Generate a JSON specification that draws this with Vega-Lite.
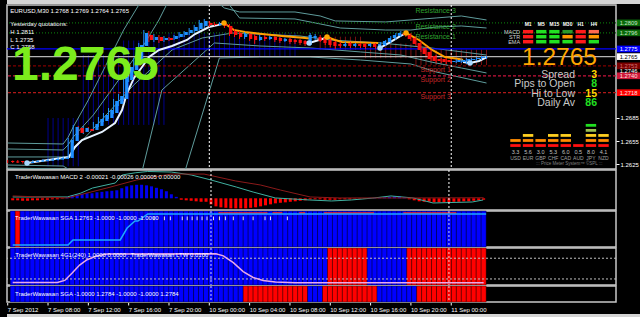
{
"$schema":"https://vega.github.io/schema/vega-lite/v6.json",
"background":"#000000",
"padding":{"left":5,"top":0,"right":0,"bottom":0},
"spacing":1,
"bounds":"flush",
"resolve":{"scale":{"color":"independent","strokeDash":"independent"}},
"config":{"view":{"stroke":"#c8c8c8","strokeWidth":1.5},"text":{"font":"Liberation Sans"},"axis":{"labelFont":"Liberation Sans"}},
"datasets":{
"B":[
{"i":0,"o":1.26289,"h":1.26302,"l":1.26263,"c":1.26276,"v":-0.00018,"a":"b","g":"b","q":"b"},
{"i":1,"o":1.26283,"h":1.26296,"l":1.26263,"c":1.2627,"v":-0.00018,"a":"r","g":"b","q":"b"},
{"i":2,"o":1.26289,"h":1.26302,"l":1.26263,"c":1.26276,"v":-0.00022,"a":"b","g":"b","q":"b"},
{"i":3,"o":1.26283,"h":1.26289,"l":1.26257,"c":1.2627,"v":-0.00022,"a":"b","g":"b","q":"b"},
{"i":4,"o":1.26263,"h":1.26289,"l":1.2625,"c":1.26276,"v":-0.00018,"a":"b","g":"b","q":"b"},
{"i":5,"o":1.26276,"h":1.26302,"l":1.26263,"c":1.26289,"v":-0.00018,"a":"b","g":"b","q":"b"},
{"i":6,"o":1.26283,"h":1.26302,"l":1.26276,"c":1.26296,"v":-0.00013,"a":"b","g":"b","q":"b"},
{"i":7,"o":1.26289,"h":1.26316,"l":1.26276,"c":1.26302,"v":-0.00013,"a":"b","g":"b","q":"b"},
{"i":8,"o":1.26296,"h":1.26322,"l":1.26283,"c":1.26309,"v":-0.00009,"a":"b","g":"b","q":"b"},
{"i":9,"o":1.26302,"h":1.26329,"l":1.26289,"c":1.26316,"v":-0.00009,"a":"b","g":"b","q":"b"},
{"i":10,"o":1.26309,"h":1.26342,"l":1.26296,"c":1.26329,"v":-0.00004,"a":"b","g":"b","q":"b"},
{"i":11,"o":1.26316,"h":1.26348,"l":1.26302,"c":1.26335,"v":0.00009,"a":"b","g":"b","q":"b"},
{"i":12,"o":1.26329,"h":1.26589,"l":1.26316,"c":1.26563,"v":0.00027,"a":"b","g":"b","q":"b"},
{"i":13,"o":1.2655,"h":1.26759,"l":1.26524,"c":1.26733,"v":0.00036,"a":"b","g":"b","q":"b"},
{"i":14,"o":1.2672,"h":1.26746,"l":1.26628,"c":1.26655,"v":0.0004,"a":"b","g":"b","q":"b"},
{"i":15,"o":1.26668,"h":1.26746,"l":1.26641,"c":1.2672,"v":0.00045,"a":"b","g":"b","q":"b"},
{"i":16,"o":1.26707,"h":1.26733,"l":1.26668,"c":1.26681,"v":0.00045,"a":"b","g":"b","q":"b"},
{"i":17,"o":1.26694,"h":1.26798,"l":1.26681,"c":1.26772,"v":0.00054,"a":"b","g":"b","q":"b"},
{"i":18,"o":1.26746,"h":1.26863,"l":1.26733,"c":1.26837,"v":0.00058,"a":"b","g":"b","q":"b"},
{"i":19,"o":1.26811,"h":1.26915,"l":1.26798,"c":1.26889,"v":0.00063,"a":"b","g":"b","q":"b"},
{"i":20,"o":1.2685,"h":1.2698,"l":1.26837,"c":1.26954,"v":0.00067,"a":"b","g":"b","q":"b"},
{"i":21,"o":1.26915,"h":1.27098,"l":1.26902,"c":1.27072,"v":0.00072,"a":"b","g":"b","q":"b"},
{"i":22,"o":1.27033,"h":1.27163,"l":1.27006,"c":1.27137,"v":0.0009,"a":"b","g":"b","q":"b"},
{"i":23,"o":1.27098,"h":1.27411,"l":1.27085,"c":1.27385,"v":0.00107,"a":"b","g":"b","q":"b"},
{"i":24,"o":1.27345,"h":1.27541,"l":1.27319,"c":1.27515,"v":0.00116,"a":"b","g":"b","q":"b"},
{"i":25,"o":1.27476,"h":1.27632,"l":1.2745,"c":1.27606,"v":0.00121,"a":"b","g":"b","q":"b"},
{"i":26,"o":1.2758,"h":1.27828,"l":1.27554,"c":1.27802,"v":0.00121,"a":"b","g":"b","q":"b"},
{"i":27,"o":1.27789,"h":1.27997,"l":1.27763,"c":1.27958,"v":0.00116,"a":"b","g":"b","q":"b"},
{"i":28,"o":1.27932,"h":1.27984,"l":1.27841,"c":1.27867,"v":0.00107,"a":"b","g":"b","q":"b"},
{"i":29,"o":1.27867,"h":1.27945,"l":1.27841,"c":1.27906,"v":0.00094,"a":"b","g":"b","q":"b"},
{"i":30,"o":1.27906,"h":1.27932,"l":1.27828,"c":1.27854,"v":0.00081,"a":"b","g":"b","q":"b"},
{"i":31,"o":1.27867,"h":1.27919,"l":1.27841,"c":1.27893,"v":0.00063,"a":"b","g":"b","q":"b"},
{"i":32,"o":1.27893,"h":1.27906,"l":1.27854,"c":1.27867,"v":0.00036,"a":"b","g":"b","q":"b"},
{"i":33,"o":1.2788,"h":1.27932,"l":1.27867,"c":1.27919,"v":0.00013,"a":"b","g":"b","q":"b"},
{"i":34,"o":1.27906,"h":1.27971,"l":1.27893,"c":1.27945,"v":-0.00013,"a":"b","g":"b","q":"b"},
{"i":35,"o":1.27932,"h":1.27984,"l":1.27906,"c":1.27971,"v":-0.00018,"a":"b","g":"b","q":"b"},
{"i":36,"o":1.27958,"h":1.28023,"l":1.27932,"c":1.27997,"v":-0.00022,"a":"b","g":"b","q":"b"},
{"i":37,"o":1.27984,"h":1.28063,"l":1.27958,"c":1.28036,"v":-0.00027,"a":"b","g":"b","q":"b"},
{"i":38,"o":1.2801,"h":1.28128,"l":1.27984,"c":1.28089,"v":-0.00031,"a":"b","g":"b","q":"b"},
{"i":39,"o":1.2805,"h":1.28141,"l":1.28023,"c":1.28115,"v":-0.00031,"a":"b","g":"b","q":"b"},
{"i":40,"o":1.28089,"h":1.28115,"l":1.28036,"c":1.28063,"v":-0.00054,"a":"b","g":"b","q":"b"},
{"i":41,"o":1.28076,"h":1.28102,"l":1.2805,"c":1.28063,"v":-0.00072,"a":"b","g":"b","q":"b"},
{"i":42,"o":1.28063,"h":1.28102,"l":1.2805,"c":1.28076,"v":-0.00081,"a":"b","g":"b","q":"b"},
{"i":43,"o":1.28076,"h":1.28115,"l":1.28023,"c":1.2805,"v":-0.00085,"a":"b","g":"b","q":"b"},
{"i":44,"o":1.2805,"h":1.28076,"l":1.27919,"c":1.27945,"v":-0.0009,"a":"b","g":"b","q":"b"},
{"i":45,"o":1.27984,"h":1.2801,"l":1.27906,"c":1.27932,"v":-0.0009,"a":"b","g":"b","q":"b"},
{"i":46,"o":1.27958,"h":1.27984,"l":1.2788,"c":1.27906,"v":-0.0009,"a":"b","g":"b","q":"b"},
{"i":47,"o":1.27906,"h":1.27971,"l":1.2788,"c":1.27945,"v":-0.0009,"a":"b","g":"b","q":"r"},
{"i":48,"o":1.27945,"h":1.27958,"l":1.27854,"c":1.2788,"v":-0.00085,"a":"b","g":"b","q":"r"},
{"i":49,"o":1.27919,"h":1.27945,"l":1.27815,"c":1.27867,"v":-0.00081,"a":"b","g":"b","q":"r"},
{"i":50,"o":1.27867,"h":1.27932,"l":1.27854,"c":1.27906,"v":-0.00072,"a":"b","g":"b","q":"r"},
{"i":51,"o":1.27906,"h":1.27932,"l":1.27854,"c":1.2788,"v":-0.00063,"a":"b","g":"b","q":"r"},
{"i":52,"o":1.2788,"h":1.27919,"l":1.27867,"c":1.27906,"v":-0.00054,"a":"b","g":"b","q":"r"},
{"i":53,"o":1.27906,"h":1.27919,"l":1.27841,"c":1.27867,"v":-0.00045,"a":"b","g":"b","q":"r"},
{"i":54,"o":1.27893,"h":1.27906,"l":1.27828,"c":1.27854,"v":-0.0004,"a":"b","g":"b","q":"r"},
{"i":55,"o":1.27854,"h":1.27893,"l":1.27841,"c":1.2788,"v":-0.00036,"a":"b","g":"b","q":"r"},
{"i":56,"o":1.2788,"h":1.27893,"l":1.27815,"c":1.27841,"v":-0.00031,"a":"b","g":"b","q":"r"},
{"i":57,"o":1.27867,"h":1.2788,"l":1.27815,"c":1.27841,"v":-0.00027,"a":"b","g":"b","q":"r"},
{"i":58,"o":1.27867,"h":1.2788,"l":1.27802,"c":1.27828,"v":-0.00022,"a":"b","g":"b","q":"r"},
{"i":59,"o":1.27854,"h":1.27867,"l":1.27789,"c":1.27815,"v":-0.00018,"a":"b","g":"b","q":"r"},
{"i":60,"o":1.27802,"h":1.27958,"l":1.27789,"c":1.27932,"v":-0.00009,"a":"b","g":"b","q":"b"},
{"i":61,"o":1.27893,"h":1.27945,"l":1.27867,"c":1.27919,"v":-0.00009,"a":"b","g":"b","q":"b"},
{"i":62,"o":1.27906,"h":1.27932,"l":1.27841,"c":1.27854,"v":-0.00009,"a":"b","g":"b","q":"b"},
{"i":63,"o":1.27893,"h":1.27919,"l":1.27802,"c":1.27828,"v":-0.00013,"a":"b","g":"b","q":"r"},
{"i":64,"o":1.27867,"h":1.27893,"l":1.27776,"c":1.27802,"v":-0.00013,"a":"b","g":"r","q":"r"},
{"i":65,"o":1.27841,"h":1.27854,"l":1.2775,"c":1.27789,"v":-0.00013,"a":"b","g":"r","q":"r"},
{"i":66,"o":1.27815,"h":1.27841,"l":1.27763,"c":1.27789,"v":-0.00009,"a":"b","g":"r","q":"r"},
{"i":67,"o":1.27789,"h":1.27841,"l":1.27776,"c":1.27815,"v":-0.00009,"a":"b","g":"r","q":"r"},
{"i":68,"o":1.27828,"h":1.27841,"l":1.27763,"c":1.27789,"v":-0.00009,"a":"b","g":"r","q":"r"},
{"i":69,"o":1.27789,"h":1.27828,"l":1.27776,"c":1.27815,"v":-0.00004,"a":"b","g":"r","q":"r"},
{"i":70,"o":1.27815,"h":1.27828,"l":1.27763,"c":1.27789,"v":-0.00004,"a":"b","g":"r","q":"r"},
{"i":71,"o":1.27815,"h":1.27828,"l":1.2775,"c":1.27776,"v":-0.00004,"a":"b","g":"r","q":"r"},
{"i":72,"o":1.27789,"h":1.27828,"l":1.27776,"c":1.27815,"v":0.00004,"a":"b","g":"b","q":"r"},
{"i":73,"o":1.27815,"h":1.27828,"l":1.2775,"c":1.27776,"v":0.00004,"a":"b","g":"b","q":"r"},
{"i":74,"o":1.27776,"h":1.27841,"l":1.2775,"c":1.27815,"v":0.00004,"a":"b","g":"b","q":"b"},
{"i":75,"o":1.27802,"h":1.27867,"l":1.27789,"c":1.27854,"v":0.00009,"a":"b","g":"b","q":"b"},
{"i":76,"o":1.27841,"h":1.27919,"l":1.27828,"c":1.27893,"v":0.00013,"a":"b","g":"b","q":"b"},
{"i":77,"o":1.27893,"h":1.27958,"l":1.27867,"c":1.27932,"v":0.00018,"a":"b","g":"b","q":"b"},
{"i":78,"o":1.27919,"h":1.27984,"l":1.27906,"c":1.27958,"v":0.00018,"a":"b","g":"b","q":"b"},
{"i":79,"o":1.27958,"h":1.27984,"l":1.27906,"c":1.27932,"v":0.00009,"a":"b","g":"b","q":"b"},
{"i":80,"o":1.27932,"h":1.27958,"l":1.27854,"c":1.2788,"v":-0.00009,"a":"b","g":"r","q":"b"},
{"i":81,"o":1.27893,"h":1.27919,"l":1.27789,"c":1.27815,"v":-0.00018,"a":"b","g":"r","q":"b"},
{"i":82,"o":1.27828,"h":1.27854,"l":1.27711,"c":1.27737,"v":-0.00027,"a":"b","g":"r","q":"r"},
{"i":83,"o":1.27763,"h":1.27789,"l":1.27658,"c":1.27684,"v":-0.00031,"a":"b","g":"r","q":"r"},
{"i":84,"o":1.27711,"h":1.27737,"l":1.27593,"c":1.27619,"v":-0.00031,"a":"b","g":"r","q":"r"},
{"i":85,"o":1.27658,"h":1.27671,"l":1.27567,"c":1.27593,"v":-0.00036,"a":"b","g":"r","q":"r"},
{"i":86,"o":1.27619,"h":1.27632,"l":1.27567,"c":1.27593,"v":-0.00036,"a":"b","g":"r","q":"r"},
{"i":87,"o":1.27619,"h":1.27632,"l":1.27554,"c":1.2758,"v":-0.00036,"a":"b","g":"r","q":"r"},
{"i":88,"o":1.27606,"h":1.27619,"l":1.27554,"c":1.2758,"v":-0.00036,"a":"b","g":"r","q":"r"},
{"i":89,"o":1.2758,"h":1.27619,"l":1.27567,"c":1.27593,"v":-0.00031,"a":"b","g":"r","q":"r"},
{"i":90,"o":1.2758,"h":1.27619,"l":1.27567,"c":1.27606,"v":-0.00031,"a":"b","g":"r","q":"r"},
{"i":91,"o":1.2758,"h":1.27632,"l":1.27554,"c":1.27606,"v":-0.00027,"a":"b","g":"r","q":"r"},
{"i":92,"o":1.27593,"h":1.27632,"l":1.2758,"c":1.27619,"v":-0.00027,"a":"b","g":"r","q":"r"},
{"i":93,"o":1.27606,"h":1.27645,"l":1.27593,"c":1.27619,"v":-0.00022,"a":"b","g":"r","q":"r"},
{"i":94,"o":1.27619,"h":1.27658,"l":1.27606,"c":1.27632,"v":-0.00018,"a":"b","g":"r","q":"r"},
{"i":95,"o":1.27632,"h":1.27658,"l":1.27619,"c":1.2765,"v":-0.00013,"a":"b","g":"r","q":"r"}
],
"bgr":[
{"i":8,"a":1.2685,"b":1.2622,"k":"n"},{"i":9,"a":1.2685,"b":1.2622,"k":"n"},{"i":10,"a":1.2685,"b":1.2622,"k":"n"},{"i":11,"a":1.2685,"b":1.2622,"k":"n"},{"i":12,"a":1.2685,"b":1.2622,"k":"n"},{"i":13,"a":1.2685,"b":1.2622,"k":"n"},{"i":14,"a":1.2685,"b":1.2622,"k":"n"},
{"i":15,"a":1.2767,"b":1.2676,"k":"n"},{"i":16,"a":1.2767,"b":1.2676,"k":"n"},{"i":17,"a":1.2767,"b":1.2676,"k":"n"},{"i":18,"a":1.2767,"b":1.2676,"k":"n"},{"i":19,"a":1.2767,"b":1.2676,"k":"n"},{"i":20,"a":1.2767,"b":1.2676,"k":"n"},{"i":21,"a":1.2767,"b":1.2676,"k":"n"},{"i":22,"a":1.2767,"b":1.2676,"k":"n"},
{"i":23,"a":1.2786,"b":1.2676,"k":"n"},{"i":24,"a":1.2786,"b":1.2676,"k":"n"},{"i":25,"a":1.2786,"b":1.2676,"k":"n"},{"i":26,"a":1.2786,"b":1.2676,"k":"n"},{"i":27,"a":1.2786,"b":1.2676,"k":"n"},{"i":28,"a":1.2786,"b":1.2676,"k":"n"},{"i":29,"a":1.2786,"b":1.2676,"k":"n"},{"i":30,"a":1.2786,"b":1.2676,"k":"n"},{"i":31,"a":1.2786,"b":1.2676,"k":"n"},
{"i":32,"a":1.2796,"b":1.2765,"k":"n"},{"i":33,"a":1.2796,"b":1.2765,"k":"n"},{"i":34,"a":1.2796,"b":1.2765,"k":"n"},{"i":35,"a":1.2796,"b":1.2765,"k":"n"},{"i":36,"a":1.2796,"b":1.2765,"k":"n"},{"i":37,"a":1.2796,"b":1.2765,"k":"n"},{"i":38,"a":1.2796,"b":1.2765,"k":"n"},{"i":39,"a":1.2796,"b":1.2765,"k":"n"},{"i":40,"a":1.2796,"b":1.2765,"k":"n"},{"i":41,"a":1.2796,"b":1.2765,"k":"n"},{"i":42,"a":1.2796,"b":1.2765,"k":"n"},{"i":43,"a":1.2796,"b":1.2765,"k":"n"},{"i":44,"a":1.2796,"b":1.2765,"k":"n"},{"i":45,"a":1.2796,"b":1.2765,"k":"n"},{"i":46,"a":1.2796,"b":1.2765,"k":"n"},{"i":47,"a":1.2796,"b":1.2765,"k":"n"},{"i":48,"a":1.2796,"b":1.2765,"k":"n"},{"i":49,"a":1.2796,"b":1.2765,"k":"n"},{"i":50,"a":1.2796,"b":1.2765,"k":"n"},{"i":51,"a":1.2796,"b":1.2765,"k":"n"},{"i":52,"a":1.2796,"b":1.2765,"k":"n"},{"i":53,"a":1.2796,"b":1.2765,"k":"n"},{"i":54,"a":1.2796,"b":1.2765,"k":"n"},{"i":55,"a":1.2796,"b":1.2765,"k":"n"},{"i":56,"a":1.2796,"b":1.2765,"k":"n"},{"i":57,"a":1.2796,"b":1.2765,"k":"n"},
{"i":62,"a":1.2791,"b":1.2774,"k":"r"},{"i":63,"a":1.2791,"b":1.2774,"k":"r"},{"i":64,"a":1.2791,"b":1.2774,"k":"r"},{"i":65,"a":1.2791,"b":1.2774,"k":"r"},{"i":66,"a":1.2791,"b":1.2774,"k":"r"},{"i":67,"a":1.2791,"b":1.2774,"k":"r"},{"i":68,"a":1.2791,"b":1.2774,"k":"r"},{"i":69,"a":1.2791,"b":1.2774,"k":"r"},{"i":70,"a":1.2791,"b":1.2774,"k":"r"},
{"i":71,"a":1.2782,"b":1.2763,"k":"r"},{"i":72,"a":1.2782,"b":1.2763,"k":"r"},{"i":73,"a":1.2782,"b":1.2763,"k":"r"},{"i":74,"a":1.2782,"b":1.2763,"k":"r"},{"i":75,"a":1.2782,"b":1.2763,"k":"r"},{"i":76,"a":1.2782,"b":1.2763,"k":"r"},{"i":77,"a":1.2782,"b":1.2763,"k":"r"},{"i":78,"a":1.2782,"b":1.2763,"k":"r"},{"i":79,"a":1.2782,"b":1.2763,"k":"r"},{"i":80,"a":1.2782,"b":1.2763,"k":"r"},
{"i":81,"a":1.2774,"b":1.2754,"k":"r"},{"i":82,"a":1.2774,"b":1.2754,"k":"r"},{"i":83,"a":1.2774,"b":1.2754,"k":"r"},{"i":84,"a":1.2774,"b":1.2754,"k":"r"},{"i":85,"a":1.2774,"b":1.2754,"k":"r"},{"i":86,"a":1.2774,"b":1.2754,"k":"r"},{"i":87,"a":1.2774,"b":1.2754,"k":"r"},{"i":88,"a":1.2774,"b":1.2754,"k":"r"},{"i":89,"a":1.2774,"b":1.2754,"k":"r"},{"i":90,"a":1.2774,"b":1.2754,"k":"r"},{"i":91,"a":1.2774,"b":1.2754,"k":"r"},{"i":92,"a":1.2774,"b":1.2754,"k":"r"},{"i":93,"a":1.2774,"b":1.2754,"k":"r"},{"i":94,"a":1.2774,"b":1.2754,"k":"r"},{"i":95,"a":1.2774,"b":1.2754,"k":"r"}
],
"bands":[
{"b":"u2","i":0,"p":1.26524},{"b":"u2","i":11,"p":1.26511},{"b":"u2","i":12,"p":1.266},{"b":"u2","i":13,"p":1.26733},{"b":"u2","i":16,"p":1.27085},{"b":"u2","i":20,"p":1.27606},{"b":"u2","i":23,"p":1.27997},{"b":"u2","i":26,"p":1.28323},{"b":"u2","i":27,"p":1.28519},{"b":"u2","i":40,"p":1.28584},{"b":"u2","i":41,"p":1.28389},{"b":"u2","i":43,"p":1.28284},{"b":"u2","i":46,"p":1.28232},{"b":"u2","i":57,"p":1.28232},{"b":"u2","i":62,"p":1.2818},{"b":"u2","i":65,"p":1.28115},{"b":"u2","i":75,"p":1.28102},{"b":"u2","i":85,"p":1.28154},{"b":"u2","i":90,"p":1.2818},{"b":"u2","i":95,"p":1.28128},
{"b":"u1","i":0,"p":1.26446},{"b":"u1","i":11,"p":1.26433},{"b":"u1","i":12,"p":1.265},{"b":"u1","i":13,"p":1.26602},{"b":"u1","i":17,"p":1.2689},{"b":"u1","i":22,"p":1.27345},{"b":"u1","i":27,"p":1.27802},{"b":"u1","i":30,"p":1.28128},{"b":"u1","i":32,"p":1.28389},{"b":"u1","i":33,"p":1.28519},{"b":"u1","i":42,"p":1.28584},{"b":"u1","i":44,"p":1.28323},{"b":"u1","i":46,"p":1.28154},{"b":"u1","i":57,"p":1.28141},{"b":"u1","i":62,"p":1.28076},{"b":"u1","i":66,"p":1.28023},{"b":"u1","i":75,"p":1.27997},{"b":"u1","i":80,"p":1.27997},{"b":"u1","i":85,"p":1.28036},{"b":"u1","i":90,"p":1.2805},{"b":"u1","i":95,"p":1.28023},
{"b":"m","i":0,"p":1.26342},{"b":"m","i":12,"p":1.26342},{"b":"m","i":13,"p":1.26433},{"b":"m","i":19,"p":1.2685},{"b":"m","i":25,"p":1.2728},{"b":"m","i":32.6,"p":1.27737},{"b":"m","i":38.6,"p":1.27893},{"b":"m","i":44.6,"p":1.27958},{"b":"m","i":58,"p":1.27919},{"b":"m","i":64,"p":1.27867},{"b":"m","i":74,"p":1.27828},{"b":"m","i":84,"p":1.27763},{"b":"m","i":95,"p":1.27671},
{"b":"l1","i":0,"p":1.26237},{"b":"l1","i":11,"p":1.26224},{"b":"l1","i":13,"p":1.26146},{"b":"l1","i":20,"p":1.25977},{"b":"l1","i":26,"p":1.25977},{"b":"l1","i":30.6,"p":1.27215},{"b":"l1","i":41,"p":1.27828},{"b":"l1","i":50,"p":1.27789},{"b":"l1","i":60,"p":1.27763},{"b":"l1","i":70,"p":1.27711},{"b":"l1","i":78,"p":1.27671},{"b":"l1","i":84,"p":1.2758},{"b":"l1","i":90,"p":1.27502},{"b":"l1","i":95,"p":1.27437},
{"b":"l2","i":0,"p":1.26198},{"b":"l2","i":11,"p":1.26185},{"b":"l2","i":13,"p":1.26094},{"b":"l2","i":33,"p":1.26042},{"b":"l2","i":35.3,"p":1.26185},{"b":"l2","i":42,"p":1.27632},{"b":"l2","i":50,"p":1.27645},{"b":"l2","i":60,"p":1.27645},{"b":"l2","i":70,"p":1.27606},{"b":"l2","i":80,"p":1.27554},{"b":"l2","i":85,"p":1.2745},{"b":"l2","i":95,"p":1.27306}
],
"hl":[{"p":1.2775,"k":"blue"},{"p":1.2765,"k":"bid"},{"p":1.2753,"k":"s1"},{"p":1.274,"k":"s2"},{"p":1.2718,"k":"s3"},{"p":1.2809,"k":"r"},{"p":1.2796,"k":"r"}],
"sep":[{"i":40},{"i":88}],
"tl":[{"i":0,"t":"7 Sep 2012"},{"i":8,"t":"7 Sep 08:00"},{"i":16,"t":"7 Sep 12:00"},{"i":24,"t":"7 Sep 16:00"},{"i":32,"t":"7 Sep 20:00"},{"i":40,"t":"10 Sep 00:00"},{"i":48,"t":"10 Sep 04:00"},{"i":56,"t":"10 Sep 08:00"},{"i":64,"t":"10 Sep 12:00"},{"i":72,"t":"10 Sep 16:00"},{"i":80,"t":"10 Sep 20:00"},{"i":88,"t":"11 Sep 00:00"}],
"sd":[{"i":41.5,"j":51.4},{"i":52.4,"j":54.4},{"i":57.8,"j":59},{"i":62.8,"j":72.9},{"i":78.8,"j":89.5}],
"sw":[{"i":28.5},{"i":30.6},{"i":31.8},{"i":34.2},{"i":35.2},{"i":36.2},{"i":37.2},{"i":38.2},{"i":39.2},{"i":40.5},{"i":41.7},{"i":42.9},{"i":44.5},{"i":46.5},{"i":48.5},{"i":50.9},{"i":52},{"i":55.4}],
"ma":[
{"s":1,"t":"u","i":3.83,"p":1.26263},{"s":1,"t":"u","i":12.16,"p":1.26342},{"s":1,"t":"u","i":13.35,"p":1.26472},{"s":1,"t":"u","i":14.74,"p":1.26563},{"s":1,"t":"u","i":18.71,"p":1.26668},{"s":1,"t":"u","i":21.29,"p":1.26785},{"s":1,"t":"u","i":22.68,"p":1.26954},{"s":1,"t":"u","i":23.67,"p":1.27176},{"s":1,"t":"u","i":25.06,"p":1.27372},{"s":1,"t":"u","i":26.65,"p":1.27515},{"s":1,"t":"u","i":28.04,"p":1.27645},{"s":1,"t":"u","i":30.02,"p":1.27737},{"s":1,"t":"u","i":32.6,"p":1.27789},{"s":1,"t":"u","i":35.57,"p":1.27867},{"s":1,"t":"u","i":37.16,"p":1.27945},{"s":1,"t":"u","i":39.94,"p":1.28036},{"s":1,"t":"u","i":42.52,"p":1.28076},{"s":1,"t":"u","i":42.92,"p":1.28089},
{"s":2,"t":"d","i":42.92,"p":1.28089},{"s":2,"t":"d","i":44.9,"p":1.27997},{"s":2,"t":"d","i":47.08,"p":1.27971},{"s":2,"t":"d","i":50.46,"p":1.27945},{"s":2,"t":"d","i":54.4,"p":1.27919},{"s":2,"t":"d","i":59,"p":1.27893},{"s":2,"t":"d","i":59.8,"p":1.27886},
{"s":3,"t":"u","i":59.8,"p":1.27828},{"s":3,"t":"u","i":61.77,"p":1.27867},{"s":3,"t":"u","i":63.35,"p":1.27899},
{"s":4,"t":"d","i":63.35,"p":1.27906},{"s":4,"t":"d","i":64.94,"p":1.27867},{"s":4,"t":"d","i":66.33,"p":1.27841},{"s":4,"t":"d","i":70.3,"p":1.27834},{"s":4,"t":"d","i":73.5,"p":1.27828},
{"s":5,"t":"u","i":73.87,"p":1.27763},{"s":5,"t":"u","i":75.65,"p":1.27828},{"s":5,"t":"u","i":77.63,"p":1.27906},{"s":5,"t":"u","i":79.03,"p":1.27958},
{"s":6,"t":"d","i":79.03,"p":1.27958},{"s":6,"t":"d","i":81.6,"p":1.27867},{"s":6,"t":"d","i":84.2,"p":1.27737},{"s":6,"t":"d","i":86.77,"p":1.27645},{"s":6,"t":"d","i":89.54,"p":1.27619},{"s":6,"t":"d","i":90.34,"p":1.27606},
{"s":7,"t":"u","i":90.34,"p":1.2758},{"s":7,"t":"u","i":91.73,"p":1.27567},{"s":7,"t":"u","i":93.51,"p":1.27593},{"s":7,"t":"u","i":95.1,"p":1.27645}
],
"dots":[{"i":3.83,"p":1.26263,"t":"u"},{"i":59.8,"p":1.27828,"t":"u"},{"i":73.87,"p":1.27763,"t":"u"},{"i":91.73,"p":1.27567,"t":"u"},{"i":42.92,"p":1.28089,"t":"d"},{"i":63.35,"p":1.27906,"t":"d"},{"i":79.03,"p":1.27958,"t":"d"}],
"lv":[{"t":"Resistance 3","p":1.28305,"k":"r"},{"t":"Resistance 2","p":1.2809,"k":"r"},{"t":"Resistance 1","p":1.2796,"k":"r"},{"t":"Support 1","p":1.2753,"k":"s"},{"t":"Support 2","p":1.274,"k":"s"},{"t":"Support 3","p":1.2718,"k":"s"}],
"hd":[{"t":"EURUSD,M30  1.2768 1.2769 1.2764 1.2765","p":1.28245},{"t":"Yesterday quotations:","p":1.28072},{"t":"H 1.2811","p":1.27971},{"t":"L 1.2735","p":1.27867},{"t":"C 1.2758","p":1.27772}],
"tg":[{"p":1.2809,"k":"g","t":"1.2809"},{"p":1.2796,"k":"g","t":"1.2796"},{"p":1.2775,"k":"b","t":"1.2775"},{"p":1.2765,"k":"w","t":"1.2765"},{"p":1.2753,"k":"m","t":"1.2753"},{"p":1.274,"k":"c","t":"1.2740"},{"p":1.2718,"k":"r","t":"1.2718"}],
"db":[
{"tf":"M1","ind":"MACD","s":"r"},{"tf":"M5","ind":"MACD","s":"g"},{"tf":"M15","ind":"MACD","s":"g"},{"tf":"M30","ind":"MACD","s":"dg"},{"tf":"H1","ind":"MACD","s":"r"},{"tf":"H4","ind":"MACD","s":"sa"},
{"tf":"M1","ind":"STR","s":"r"},{"tf":"M5","ind":"STR","s":"g"},{"tf":"M15","ind":"STR","s":"g"},{"tf":"M30","ind":"STR","s":"o"},{"tf":"H1","ind":"STR","s":"r"},{"tf":"H4","ind":"STR","s":"o"},
{"tf":"M1","ind":"EMA","s":"r"},{"tf":"M5","ind":"EMA","s":"g"},{"tf":"M15","ind":"EMA","s":"g"},{"tf":"M30","ind":"EMA","s":"g"},{"tf":"H1","ind":"EMA","s":"r"},{"tf":"H4","ind":"EMA","s":"g"}
],
"dh":[{"tf":"M1"},{"tf":"M5"},{"tf":"M15"},{"tf":"M30"},{"tf":"H1"},{"tf":"H4"}],
"dl":[{"ind":"MACD"},{"ind":"STR"},{"ind":"EMA"}],
"st":[{"r":"Spread","c":"label","t":"Spread","k":"w"},{"r":"Spread","c":"value","t":"3","k":"y"},{"r":"Pips to Open","c":"label","t":"Pips to Open","k":"w"},{"r":"Pips to Open","c":"value","t":"8","k":"g"},{"r":"Hi to Low","c":"label","t":"Hi to Low","k":"w"},{"r":"Hi to Low","c":"value","t":"15","k":"y"},{"r":"Daily Av","c":"label","t":"Daily Av","k":"w"},{"r":"Daily Av","c":"value","t":"86","k":"g"}],
"sm":[{"cur":"USD","seg":"1"},{"cur":"USD","seg":"2"},{"cur":"EUR","seg":"1"},{"cur":"EUR","seg":"2"},{"cur":"EUR","seg":"3"},{"cur":"GBP","seg":"1"},{"cur":"GBP","seg":"2"},{"cur":"CHF","seg":"1"},{"cur":"CHF","seg":"2"},{"cur":"CHF","seg":"3"},{"cur":"CAD","seg":"1"},{"cur":"CAD","seg":"2"},{"cur":"CAD","seg":"3"},{"cur":"AUD","seg":"1"},{"cur":"JPY","seg":"1"},{"cur":"JPY","seg":"2"},{"cur":"JPY","seg":"3"},{"cur":"JPY","seg":"4"},{"cur":"JPY","seg":"5"},{"cur":"NZD","seg":"1"},{"cur":"NZD","seg":"2"},{"cur":"NZD","seg":"3"}],
"sv":[{"cur":"USD","t":"3.3"},{"cur":"EUR","t":"5.6"},{"cur":"GBP","t":"3.0"},{"cur":"CHF","t":"5.3"},{"cur":"CAD","t":"6.0"},{"cur":"AUD","t":"0.5"},{"cur":"JPY","t":"8.0"},{"cur":"NZD","t":"4.1"}],
"ml":[
{"s":"t","i":0,"v":0.00012},{"s":"t","i":11,"v":0.00012},{"s":"t","i":13.75,"v":0.00047},{"s":"t","i":16.1,"v":0.00092},{"s":"t","i":20.7,"v":0.00137},{"s":"t","i":22.1,"v":0.00209},{"s":"t","i":24.7,"v":0.00228},{"s":"t","i":27.2,"v":0.0024},{"s":"t","i":32,"v":0.00235},{"s":"t","i":36,"v":0.00209},{"s":"t","i":40,"v":0.00164},{"s":"t","i":45.1,"v":0.00101},{"s":"t","i":48.5,"v":0.00056},{"s":"t","i":53,"v":0.00003},{"s":"t","i":59.8,"v":-0.00015},{"s":"t","i":64.3,"v":-0.00024},{"s":"t","i":68.3,"v":-0.00015},{"s":"t","i":72.9,"v":0.00003},{"s":"t","i":76.3,"v":0.00021},{"s":"t","i":80.8,"v":0.00003},{"s":"t","i":84.8,"v":-0.00042},{"s":"t","i":92.7,"v":-0.00033},{"s":"t","i":94.9,"v":-0.00015},
{"s":"m","i":0,"v":0.00021},{"s":"m","i":11,"v":0.00003},{"s":"m","i":19,"v":0.00092},{"s":"m","i":25,"v":0.00164},{"s":"m","i":32,"v":0.00217},{"s":"m","i":38.6,"v":0.00217},{"s":"m","i":45,"v":0.00155},{"s":"m","i":50,"v":0.00119},{"s":"m","i":54,"v":0.00074},{"s":"m","i":60,"v":0.00012},{"s":"m","i":66,"v":0.00003},{"s":"m","i":80,"v":0.00003},{"s":"m","i":95,"v":0.00005}
],
"sl":[{"i":0,"v":0},{"i":11.17,"v":0},{"i":12.16,"v":0.161},{"i":21.69,"v":0.161},{"i":23.08,"v":0.548},{"i":24.67,"v":0.774},{"i":25.26,"v":0.774},{"i":27.24,"v":1},{"i":95.5,"v":1}],
"pl":[{"i":0,"v":0.03},{"i":9,"v":0.03},{"i":10.5,"v":0.1},{"i":12,"v":0.35},{"i":13.5,"v":0.62},{"i":15,"v":0.8},{"i":17,"v":0.93},{"i":19,"v":0.99},{"i":41,"v":1},{"i":42.5,"v":0.93},{"i":44.5,"v":0.7},{"i":46.5,"v":0.4},{"i":48.5,"v":0.2},{"i":50.5,"v":0.1},{"i":53,"v":0.05},{"i":57,"v":0.02},{"i":95,"v":0.02}],
"lvl4":[{"v":0.85},{"v":0.15}]
},
"vconcat":[
{"width":635,"height":4,"view":{"fill":"#d4d4d4","stroke":null},"data":{"values":[]},"mark":"point","encoding":{}},
{"width":609,"height":164,
"resolve":{"scale":{"x":"independent","y":"independent","color":"independent","strokeDash":"independent"}},
"layer":[
{"data":{"name":"bgr"},"mark":{"type":"rule","strokeWidth":1},"encoding":{"x":{"field":"i","type":"quantitative","scale":{"domain":[-0.14,120.69],"nice":false,"zero":false},"axis":null},"y":{"field":"a","type":"quantitative","scale":{"domain":[1.26185,1.28323],"nice":false,"zero":false},"axis":null},"y2":{"field":"b"},"color":{"field":"k","type":"nominal","scale":{"domain":["n","r"],"range":["#00008c","#7a1212"]},"legend":null}}},
{"data":{"name":"bands"},"mark":{"type":"line","strokeWidth":1,"clip":true,"color":"#5f9c9c"},"encoding":{"x":{"field":"i","type":"quantitative","scale":{"domain":[-0.14,120.69],"nice":false,"zero":false},"axis":null},"y":{"field":"p","type":"quantitative","scale":{"domain":[1.26185,1.28323],"nice":false,"zero":false},"axis":null},"detail":{"field":"b"}}},
{"data":{"name":"hl"},"mark":{"type":"rule","strokeWidth":1.2},"encoding":{"y":{"field":"p","type":"quantitative","scale":{"domain":[1.26185,1.28323],"nice":false,"zero":false},"axis":{"orient":"right","values":[1.2685,1.2655,1.2625],"format":".4f","labelColor":"#ffffff","labelFontSize":6,"tickColor":"#ffffff","tickSize":3,"labelPadding":1,"domain":false,"grid":false,"title":null,"labelFlush":false}},"color":{"field":"k","type":"nominal","scale":{"domain":["blue","bid","s1","s2","s3","r"],"range":["#0000ff","#b4b4b4","#800000","#c8143c","#b01818","#0a6e0a"]},"legend":null},"strokeDash":{"field":"k","type":"nominal","scale":{"domain":["blue","bid","s1","s2","s3","r"],"range":[[1,0],[1,0],[3,2],[3,2],[3,2],[1,2]]},"legend":null}}},
{"data":{"name":"sep"},"mark":{"type":"rule","color":"#ffffff","strokeDash":[2,2],"strokeWidth":1},"encoding":{"x":{"field":"i","type":"quantitative","scale":{"domain":[-0.14,120.69],"nice":false,"zero":false},"axis":null}}},
{"data":{"name":"ma"},"mark":{"type":"line","strokeWidth":2},"encoding":{"x":{"field":"i","type":"quantitative","scale":{"domain":[-0.14,120.69],"nice":false,"zero":false},"axis":null},"y":{"field":"p","type":"quantitative","scale":{"domain":[1.26185,1.28323],"nice":false,"zero":false},"axis":null},"detail":{"field":"s"},"color":{"field":"t","type":"nominal","scale":{"domain":["u","d"],"range":["#e6f2ff","#ffa000"]},"legend":null}}},
{"data":{"name":"B"},"mark":{"type":"rule","strokeWidth":1},"encoding":{"x":{"field":"i","type":"quantitative","scale":{"domain":[-0.14,120.69],"nice":false,"zero":false},"axis":null},"y":{"field":"l","type":"quantitative","scale":{"domain":[1.26185,1.28323],"nice":false,"zero":false},"axis":null},"y2":{"field":"h"},"color":{"condition":{"test":"datum.c >= datum.o","value":"#1e90ff"},"value":"#ff1010"}}},
{"data":{"name":"B"},"mark":{"type":"bar","width":3.2},"encoding":{"x":{"field":"i","type":"quantitative","scale":{"domain":[-0.14,120.69],"nice":false,"zero":false},"axis":null},"y":{"field":"o","type":"quantitative","scale":{"domain":[1.26185,1.28323],"nice":false,"zero":false},"axis":null},"y2":{"field":"c"},"color":{"condition":{"test":"datum.c >= datum.o","value":"#1e90ff"},"value":"#ff1010"}}},
{"data":{"name":"dots"},"mark":{"type":"point","filled":true,"size":30,"opacity":1},"encoding":{"x":{"field":"i","type":"quantitative","scale":{"domain":[-0.14,120.69],"nice":false,"zero":false},"axis":null},"y":{"field":"p","type":"quantitative","scale":{"domain":[1.26185,1.28323],"nice":false,"zero":false},"axis":null},"color":{"field":"t","type":"nominal","scale":{"domain":["u","d"],"range":["#a8d8ff","#ffa500"]},"legend":null}}},
{"data":{"name":"lv"},"mark":{"type":"text","fontSize":7,"dy":4.3,"baseline":"middle","align":"center"},"encoding":{"x":{"datum":84.9,"type":"quantitative","scale":{"domain":[-0.14,120.69],"nice":false,"zero":false},"axis":null},"y":{"field":"p","type":"quantitative","scale":{"domain":[1.26185,1.28323],"nice":false,"zero":false},"axis":null},"text":{"field":"t"},"color":{"field":"k","type":"nominal","scale":{"domain":["r","s"],"range":["#2ea02e","#c82828"]},"legend":null}}},
{"data":{"name":"hd"},"mark":{"type":"text","fontSize":6,"baseline":"middle","align":"left","color":"#ffffff"},"encoding":{"x":{"datum":0.5,"type":"quantitative","scale":{"domain":[-0.14,120.69],"nice":false,"zero":false},"axis":null},"y":{"field":"p","type":"quantitative","scale":{"domain":[1.26185,1.28323],"nice":false,"zero":false},"axis":null},"text":{"field":"t"}}},
{"data":{"values":[{"t":"1.2765"}]},"mark":{"type":"text","fontSize":48,"fontWeight":"bold","baseline":"alphabetic","align":"left","color":"#7cec1c"},"encoding":{"x":{"datum":0.85,"type":"quantitative","scale":{"domain":[-0.14,120.69],"nice":false,"zero":false},"axis":null},"y":{"datum":1.27345,"type":"quantitative","scale":{"domain":[1.26185,1.28323],"nice":false,"zero":false},"axis":null},"text":{"field":"t"}}},
{"data":{"name":"tg"},"mark":{"type":"point","filled":true,"opacity":1,"size":529,"shape":"M-1,-0.29H1V0.29H-1Z"},"encoding":{"x":{"datum":123.17,"type":"quantitative","scale":{"domain":[-0.14,120.69],"nice":false,"zero":false},"axis":null},"y":{"field":"p","type":"quantitative","scale":{"domain":[1.26185,1.28323],"nice":false,"zero":false},"axis":null},"color":{"field":"k","type":"nominal","scale":{"domain":["g","b","w","m","c","r"],"range":["#0a6a0a","#0000ff","#ffffff","#7a0000","#d01838","#ff0000"]},"legend":null}}},
{"data":{"name":"tg"},"mark":{"type":"text","fontSize":5.8,"baseline":"middle","align":"center"},"encoding":{"x":{"datum":123.17,"type":"quantitative","scale":{"domain":[-0.14,120.69],"nice":false,"zero":false},"axis":null},"y":{"field":"p","type":"quantitative","scale":{"domain":[1.26185,1.28323],"nice":false,"zero":false},"axis":null},"text":{"field":"t"},"color":{"field":"k","type":"nominal","scale":{"domain":["g","b","w","m","c","r"],"range":["#c8e8c8","#ffffff","#000000","#d07070","#ffe0e0","#ffe0e0"]},"legend":null}}},
{"data":{"values":[{"t":"1.2746"}]},"mark":{"type":"text","fontSize":5.8,"baseline":"middle","align":"center","color":"#ffffff"},"encoding":{"x":{"datum":123.17,"type":"quantitative","scale":{"domain":[-0.14,120.69],"nice":false,"zero":false},"axis":null},"y":{"datum":1.27462,"type":"quantitative","scale":{"domain":[1.26185,1.28323],"nice":false,"zero":false},"axis":null},"text":{"field":"t"}}},
{"data":{"name":"db"},"mark":{"type":"rect"},"encoding":{"x":{"field":"tf","type":"nominal","scale":{"type":"band","domain":["lbl","M1","M5","M15","M30","H1","H4"],"range":[501.4,593.4],"paddingInner":0.22,"paddingOuter":0.11},"axis":null},"y":{"field":"ind","type":"nominal","scale":{"type":"band","domain":["hdr","MACD","STR","EMA"],"range":[19.2,39.2],"paddingInner":0.3,"paddingOuter":0.15},"axis":null},"color":{"field":"s","type":"nominal","scale":{"domain":["r","g","dg","o","sa"],"range":["#ff1a1a","#22e022","#2a9a2a","#ff9900","#ff6a50"]},"legend":null}}},
{"data":{"name":"dh"},"mark":{"type":"text","fontSize":5,"fontWeight":"bold","baseline":"middle","align":"center","color":"#ffffff","dy":-2.5},"encoding":{"x":{"field":"tf","type":"nominal","scale":{"type":"band","domain":["lbl","M1","M5","M15","M30","H1","H4"],"range":[501.4,593.4],"paddingInner":0.22,"paddingOuter":0.11},"axis":null},"y":{"datum":"hdr","type":"nominal","scale":{"type":"band","domain":["hdr","MACD","STR","EMA"],"range":[19.2,39.2],"paddingInner":0.3,"paddingOuter":0.15},"axis":null},"text":{"field":"tf"}}},
{"data":{"name":"dl"},"mark":{"type":"text","fontSize":5.5,"baseline":"middle","align":"right","color":"#d0d0d0"},"encoding":{"x":{"datum":"lbl","type":"nominal","bandPosition":1,"scale":{"type":"band","domain":["lbl","M1","M5","M15","M30","H1","H4"],"range":[501.4,593.4],"paddingInner":0.22,"paddingOuter":0.11},"axis":null},"y":{"field":"ind","type":"nominal","scale":{"type":"band","domain":["hdr","MACD","STR","EMA"],"range":[19.2,39.2],"paddingInner":0.3,"paddingOuter":0.15},"axis":null},"text":{"field":"ind"}}},
{"data":{"name":"st"},"transform":[{"filter":"datum.c == 'label'"}],"mark":{"type":"text","fontSize":10.5,"baseline":"alphabetic","align":"right"},"encoding":{"x":{"field":"c","type":"nominal","scale":{"type":"point","domain":["label","value"],"range":[568,590],"padding":0},"axis":null},"y":{"field":"r","type":"nominal","scale":{"type":"point","domain":["big","Spread","Pips to Open","Hi to Low","Daily Av"],"range":[63.7,100.9],"padding":0},"axis":null},"text":{"field":"t"},"color":{"field":"k","type":"nominal","scale":{"domain":["w","y","g"],"range":["#c8c8c8","#ffd700","#22e022"]},"legend":null}}},
{"data":{"name":"st"},"transform":[{"filter":"datum.c == 'value'"}],"mark":{"type":"text","fontSize":10.5,"fontWeight":"bold","baseline":"alphabetic","align":"right"},"encoding":{"x":{"field":"c","type":"nominal","scale":{"type":"point","domain":["label","value"],"range":[568,590],"padding":0},"axis":null},"y":{"field":"r","type":"nominal","scale":{"type":"point","domain":["big","Spread","Pips to Open","Hi to Low","Daily Av"],"range":[63.7,100.9],"padding":0},"axis":null},"text":{"field":"t"},"color":{"field":"k","type":"nominal","scale":{"domain":["w","y","g"],"range":["#c8c8c8","#ffd700","#22e022"]},"legend":null}}},
{"data":{"values":[{"t":"1.2765"}]},"mark":{"type":"text","fontSize":24.5,"baseline":"alphabetic","align":"right","color":"#ffa500","dy":-4.2},"encoding":{"x":{"datum":"value","type":"nominal","scale":{"type":"point","domain":["label","value"],"range":[568,590],"padding":0},"axis":null},"y":{"datum":"big","type":"nominal","scale":{"type":"point","domain":["big","Spread","Pips to Open","Hi to Low","Daily Av"],"range":[63.7,100.9],"padding":0},"axis":null},"text":{"field":"t"}}},
{"data":{"name":"sm"},"mark":{"type":"rect"},"encoding":{"x":{"field":"cur","type":"nominal","scale":{"type":"band","domain":["USD","EUR","GBP","CHF","CAD","AUD","JPY","NZD"],"range":[502.2,602.8],"paddingInner":0.17,"paddingOuter":0.085},"axis":null},"y":{"field":"seg","type":"nominal","scale":{"type":"band","domain":["5","4","3","2","1","val","cur","brand"],"range":[117.8,158.2],"paddingInner":0.45,"paddingOuter":0.225},"axis":null},"color":{"field":"seg","type":"nominal","scale":{"domain":["1","2","3","4","5"],"range":["#ff1010","#ff8c00","#ffd020","#9cc050","#20e020"]},"legend":null}}},
{"data":{"name":"sv"},"mark":{"type":"text","fontSize":5.5,"baseline":"middle","align":"center","color":"#c0c0c0","dy":1.1},"encoding":{"x":{"field":"cur","type":"nominal","scale":{"type":"band","domain":["USD","EUR","GBP","CHF","CAD","AUD","JPY","NZD"],"range":[502.2,602.8],"paddingInner":0.17,"paddingOuter":0.085},"axis":null},"y":{"datum":"val","type":"nominal","scale":{"type":"band","domain":["5","4","3","2","1","val","cur","brand"],"range":[117.8,158.2],"paddingInner":0.45,"paddingOuter":0.225},"axis":null},"text":{"field":"t"}}},
{"data":{"name":"sv"},"mark":{"type":"text","fontSize":5,"baseline":"middle","align":"center","color":"#a0a0a0","dy":2},"encoding":{"x":{"field":"cur","type":"nominal","scale":{"type":"band","domain":["USD","EUR","GBP","CHF","CAD","AUD","JPY","NZD"],"range":[502.2,602.8],"paddingInner":0.17,"paddingOuter":0.085},"axis":null},"y":{"datum":"cur","type":"nominal","scale":{"type":"band","domain":["5","4","3","2","1","val","cur","brand"],"range":[117.8,158.2],"paddingInner":0.45,"paddingOuter":0.225},"axis":null},"text":{"field":"cur"}}},
{"data":{"values":[{"t":"::: Price Meter System™ ©SPL :::"}]},"mark":{"type":"text","fontSize":4.5,"baseline":"middle","align":"center","color":"#808080","dy":3.3,"dx":3.5},"encoding":{"x":{"datum":"CAD","type":"nominal","scale":{"type":"band","domain":["USD","EUR","GBP","CHF","CAD","AUD","JPY","NZD"],"range":[502.2,602.8],"paddingInner":0.17,"paddingOuter":0.085},"axis":null},"y":{"datum":"brand","type":"nominal","scale":{"type":"band","domain":["5","4","3","2","1","val","cur","brand"],"range":[117.8,158.2],"paddingInner":0.45,"paddingOuter":0.225},"axis":null},"text":{"field":"t"}}}
]},
{"width":609,"height":40,
"layer":[
{"data":{"name":"B"},"mark":{"type":"bar","width":3},"encoding":{"x":{"field":"i","type":"quantitative","scale":{"domain":[-0.14,120.69],"nice":false,"zero":false},"axis":null},"y":{"field":"v","type":"quantitative","scale":{"domain":[-0.001047,0.002533],"nice":false,"zero":false},"axis":{"orient":"right","values":[0.00209,0,-0.00042],"labelExpr":"datum.value > 0.001 ? '0.00244' : (datum.value < -0.0002 ? '-0.00105' : '0.00')","labelColor":"#ffffff","labelFontSize":6,"tickColor":"#ffffff","tickSize":3,"labelPadding":1,"domain":false,"grid":false,"title":null,"labelFlush":false,"labelOverlap":false}},"color":{"condition":{"test":"datum.v >= 0","value":"#0000ee"},"value":"#ff0000"}}},
{"data":{"name":"ml"},"mark":{"type":"line","strokeWidth":1,"clip":true},"encoding":{"x":{"field":"i","type":"quantitative","scale":{"domain":[-0.14,120.69],"nice":false,"zero":false},"axis":null},"y":{"field":"v","type":"quantitative","scale":{"domain":[-0.001047,0.002533],"nice":false,"zero":false},"axis":null},"color":{"field":"s","type":"nominal","scale":{"domain":["t","m"],"range":["#40b0a0","#8b1a1a"]},"legend":null}}},
{"data":{"values":[{"t":"TraderWawasan MACD 2 -0.00021 -0.00026 0.00005 0.00000"}]},"mark":{"type":"text","fontSize":6,"baseline":"middle","align":"left","color":"#ffffff"},"encoding":{"x":{"datum":0.46,"type":"quantitative","scale":{"domain":[-0.14,120.69],"nice":false,"zero":false},"axis":null},"y":{"datum":0.00191,"type":"quantitative","scale":{"domain":[-0.001047,0.002533],"nice":false,"zero":false},"axis":null},"text":{"field":"t"}}},
{"data":{"name":"sep"},"mark":{"type":"rule","color":"#ffffff","strokeDash":[2,2],"strokeWidth":1},"encoding":{"x":{"field":"i","type":"quantitative","scale":{"domain":[-0.14,120.69],"nice":false,"zero":false},"axis":null}}}
]},
{"width":609,"height":36,
"layer":[
{"data":{"name":"B"},"mark":{"type":"bar","width":5.04,"stroke":"#000000","strokeOpacity":0.45,"strokeWidth":0.8},"encoding":{"x":{"field":"i","type":"quantitative","scale":{"domain":[-0.14,120.69],"nice":false,"zero":false},"axis":null},"y":{"datum":1.097,"type":"quantitative","scale":{"domain":[-0.065,1.097],"nice":false,"zero":false},"axis":{"orient":"right","values":[0.968,0.0645],"labelExpr":"datum.value > 0.5 ? '1' : '0'","labelColor":"#ffffff","labelFontSize":6,"tickColor":"#ffffff","tickSize":3,"labelPadding":1,"domain":false,"grid":false,"title":null,"labelFlush":false}},"y2":{"datum":-0.065},"color":{"field":"a","type":"nominal","scale":{"domain":["b","r"],"range":["#0000ff","#ff0000"]},"legend":null}}},
{"data":{"name":"sd"},"mark":{"type":"rule","color":"#ff2020","strokeWidth":1.5},"encoding":{"x":{"field":"i","type":"quantitative","scale":{"domain":[-0.14,120.69],"nice":false,"zero":false},"axis":null},"x2":{"field":"j"},"y":{"datum":1.035,"type":"quantitative","scale":{"domain":[-0.065,1.097],"nice":false,"zero":false},"axis":null}}},
{"data":{"name":"sw"},"mark":{"type":"rule","color":"#e8e8e8","strokeWidth":1},"encoding":{"x":{"field":"i","type":"quantitative","scale":{"domain":[-0.14,120.69],"nice":false,"zero":false},"axis":null},"y":{"datum":0.92,"type":"quantitative","scale":{"domain":[-0.065,1.097],"nice":false,"zero":false},"axis":null},"y2":{"datum":0.8}}},
{"data":{"name":"sl"},"mark":{"type":"line","strokeWidth":1.5,"color":"#1ea8ff"},"encoding":{"x":{"field":"i","type":"quantitative","scale":{"domain":[-0.14,120.69],"nice":false,"zero":false},"axis":null},"y":{"field":"v","type":"quantitative","scale":{"domain":[-0.065,1.097],"nice":false,"zero":false},"axis":null}}},
{"data":{"values":[{"t":"TraderWawasan SGA 1.2763 -1.0000 -1.0000 -1.0000"}]},"mark":{"type":"text","fontSize":6,"baseline":"middle","align":"left","color":"#ffffff"},"encoding":{"x":{"datum":0.46,"type":"quantitative","scale":{"domain":[-0.14,120.69],"nice":false,"zero":false},"axis":null},"y":{"datum":0.871,"type":"quantitative","scale":{"domain":[-0.065,1.097],"nice":false,"zero":false},"axis":null},"text":{"field":"t"}}},
{"data":{"name":"sep"},"mark":{"type":"rule","color":"#ffffff","strokeDash":[2,2],"strokeWidth":1,"opacity":0.8},"encoding":{"x":{"field":"i","type":"quantitative","scale":{"domain":[-0.14,120.69],"nice":false,"zero":false},"axis":null}}}
]},
{"width":609,"height":37,
"layer":[
{"data":{"name":"B"},"mark":{"type":"bar","width":5.04,"stroke":"#000000","strokeOpacity":0.45,"strokeWidth":0.8},"encoding":{"x":{"field":"i","type":"quantitative","scale":{"domain":[-0.14,120.69],"nice":false,"zero":false},"axis":null},"y":{"datum":1.196,"type":"quantitative","scale":{"domain":[-0.054,1.196],"nice":false,"zero":false},"axis":{"orient":"right","values":[1.05,0.85,0.15,0.005],"labelExpr":"datum.value > 1 ? '1.05' : (datum.value > 0.5 ? '85' : (datum.value > 0.1 ? '15' : '-0.05'))","labelColor":"#ffffff","labelFontSize":6,"tickColor":"#ffffff","tickSize":3,"labelPadding":1,"domain":false,"grid":false,"title":null,"labelFlush":false,"labelOverlap":false}},"y2":{"datum":-0.054},"color":{"field":"g","type":"nominal","scale":{"domain":["b","r"],"range":["#0000ff","#ff0000"]},"legend":null}}},
{"data":{"name":"lvl4"},"mark":{"type":"rule","color":"#c0c0c0","strokeDash":[2,2],"strokeWidth":1},"encoding":{"y":{"field":"v","type":"quantitative","scale":{"domain":[-0.054,1.196],"nice":false,"zero":false},"axis":null}}},
{"data":{"name":"pl"},"mark":{"type":"line","strokeWidth":1.5,"color":"#e8a8e8"},"encoding":{"x":{"field":"i","type":"quantitative","scale":{"domain":[-0.14,120.69],"nice":false,"zero":false},"axis":null},"y":{"field":"v","type":"quantitative","scale":{"domain":[-0.054,1.196],"nice":false,"zero":false},"axis":null}}},
{"data":{"values":[{"t":".TraderWawasan 4G1(240) 1.0000 0.0000 . TraderWawasan LTW 0.0100"}]},"mark":{"type":"text","fontSize":6,"baseline":"middle","align":"left","color":"#ffffff"},"encoding":{"x":{"datum":0.2,"type":"quantitative","scale":{"domain":[-0.14,120.69],"nice":false,"zero":false},"axis":null},"y":{"datum":0.96,"type":"quantitative","scale":{"domain":[-0.054,1.196],"nice":false,"zero":false},"axis":null},"text":{"field":"t"}}},
{"data":{"name":"sep"},"mark":{"type":"rule","color":"#ffffff","strokeDash":[2,2],"strokeWidth":1,"opacity":0.8},"encoding":{"x":{"field":"i","type":"quantitative","scale":{"domain":[-0.14,120.69],"nice":false,"zero":false},"axis":null}}}
]},
{"width":609,"height":16,
"layer":[
{"data":{"name":"B"},"mark":{"type":"bar","width":5.04,"stroke":"#000000","strokeOpacity":0.45,"strokeWidth":0.8},"encoding":{"x":{"field":"i","type":"quantitative","scale":{"domain":[-0.14,120.69],"nice":false,"zero":false},"axis":null},"y":{"datum":1.571,"type":"quantitative","scale":{"domain":[-0.714,1.571],"nice":false,"zero":false},"axis":{"orient":"right","values":[1,0],"format":"d","labelColor":"#ffffff","labelFontSize":6,"tickColor":"#ffffff","tickSize":3,"labelPadding":1,"domain":false,"grid":false,"title":null,"labelFlush":false,"labelOverlap":false}},"y2":{"datum":-0.714},"color":{"field":"q","type":"nominal","scale":{"domain":["b","r"],"range":["#0000ff","#ff0000"]},"legend":null}}},
{"data":{"values":[{"t":"TraderWawasan SGA -1.0000 1.2784 -1.0000 -1.0000 1.2784"}]},"mark":{"type":"text","fontSize":6,"baseline":"middle","align":"left","color":"#ffffff"},"encoding":{"x":{"datum":0.46,"type":"quantitative","scale":{"domain":[-0.14,120.69],"nice":false,"zero":false},"axis":null},"y":{"datum":0.43,"type":"quantitative","scale":{"domain":[-0.714,1.571],"nice":false,"zero":false},"axis":null},"text":{"field":"t"}}},
{"data":{"name":"sep"},"mark":{"type":"rule","color":"#ffffff","strokeDash":[2,2],"strokeWidth":1,"opacity":0.8},"encoding":{"x":{"field":"i","type":"quantitative","scale":{"domain":[-0.14,120.69],"nice":false,"zero":false},"axis":null}}}
]},
{"width":609,"height":10,"view":{"stroke":null},
"layer":[
{"data":{"name":"tl"},"mark":{"type":"rule","color":"#ffffff","strokeWidth":1},"encoding":{"x":{"field":"i","type":"quantitative","scale":{"domain":[-0.14,120.69],"nice":false,"zero":false},"axis":null},"y":{"datum":10,"type":"quantitative","scale":{"domain":[0,10],"nice":false,"zero":false},"axis":null},"y2":{"datum":7.5}}},
{"data":{"name":"tl"},"mark":{"type":"text","fontSize":6,"baseline":"middle","align":"left","color":"#ffffff"},"encoding":{"x":{"field":"i","type":"quantitative","scale":{"domain":[-0.14,120.69],"nice":false,"zero":false},"axis":null},"y":{"datum":3.5,"type":"quantitative","scale":{"domain":[0,10],"nice":false,"zero":false},"axis":null},"text":{"field":"t"}}}
]},
{"width":635,"height":3,"view":{"fill":"#d4d4d4","stroke":null},"data":{"values":[]},"mark":"point","encoding":{}}
]
}
